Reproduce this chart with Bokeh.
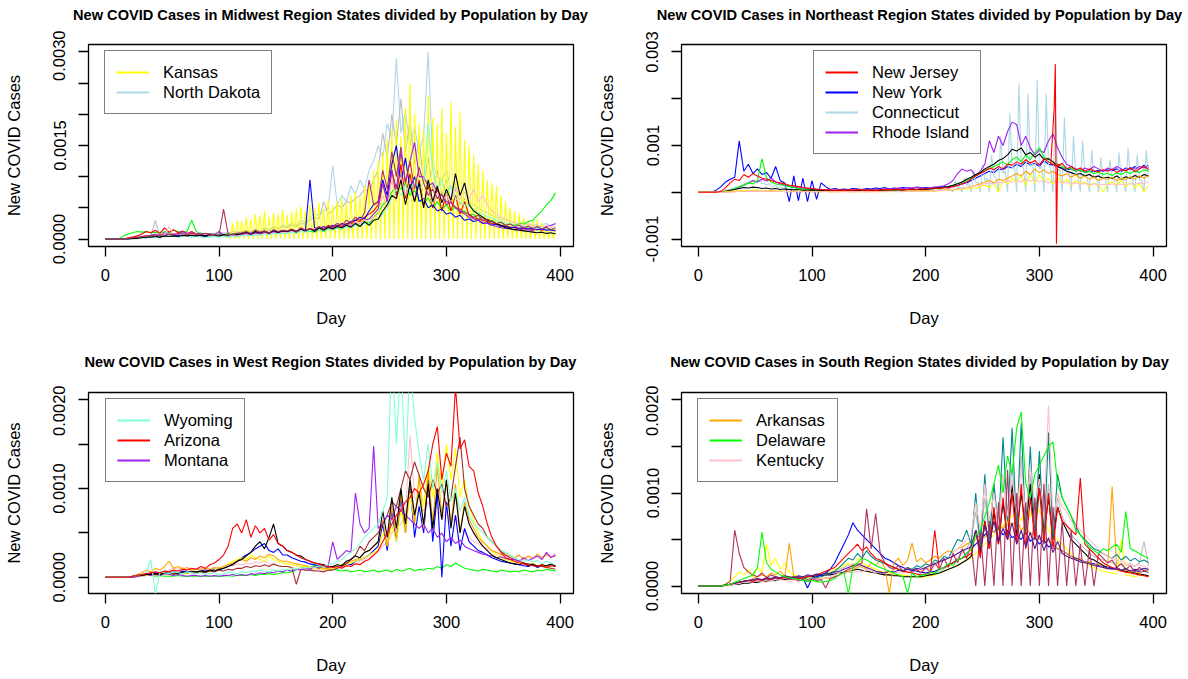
from bokeh.embed import file_html
from bokeh.layouts import column, row
from bokeh.models import (CustomJSTickFormatter, Div, FixedTicker, Legend,
                          LegendItem, Range1d)
from bokeh.plotting import figure
from bokeh.resources import INLINE

FONT = "Liberation Sans"

# Days since the first record. Most states are sampled every 4 days; states
# that only reported on some weekdays are sampled every 2 days.
DAYS_4 = list(range(0, 397, 4))
DAYS_2 = list(range(0, 397, 2))

# ---------------------------------------------------------------------------
# New cases per 100,000 residents
# ---------------------------------------------------------------------------

# Midwest
mw_kansas = [  # every 2 days
    0, 0, 0, 0, 0, 0, 0, 0, 0, 0, 1, 1, 2, 2, 3, 2, 3, 3, 4, 3,
    4, 3, 5, 4, 4, 6, 5, 4, 6, 5, 7, 5, 6, 4, 6, 5, 7, 6, 5, 6,
    5, 4, 6, 5, 4, 5, 6, 4, 5, 4, 6, 5, 4, 5, 6, 0, 25, 0, 30, 0,
    28, 0, 35, 0, 32, 0, 40, 0, 38, 0, 45, 0, 36, 0, 42, 0, 40, 0, 47, 0,
    38, 0, 44, 0, 48, 0, 52, 0, 45, 0, 55, 0, 50, 0, 58, 0, 48, 0, 62, 0,
    55, 0, 60, 0, 65, 0, 58, 0, 70, 0, 75, 0, 68, 0, 85, 0, 90, 0, 110, 0,
    125, 0, 140, 0, 160, 0, 175, 0, 190, 0, 165, 0, 210, 0, 250, 0, 200, 0, 185, 0,
    175, 0, 230, 0, 195, 0, 185, 0, 210, 0, 170, 0, 220, 0, 180, 0, 205, 0, 160, 0,
    150, 0, 135, 0, 120, 0, 110, 0, 95, 0, 90, 0, 85, 0, 70, 0, 60, 0, 50, 0,
    45, 0, 40, 0, 35, 0, 30, 0, 28, 0, 32, 0, 25, 0, 22, 0, 20, 0, 18,
]
mw_north_dakota = [
    0, 0, 0, 0, 0, 0, 1, 2, 3, 2,
    3, 4, 3, 5, 4, 6, 4, 5, 7, 5,
    6, 8, 5, 7, 9, 6, 8, 10, 7, 12,
    10, 14, 12, 16, 13, 18, 15, 20, 17, 22,
    20, 25, 22, 30, 26, 35, 40, 38, 45, 50,
    118, 55, 70, 60, 85, 72, 95, 80, 110, 125,
    150, 130, 185, 160, 290, 170, 205, 150, 180, 140,
    165, 300, 120, 100, 95, 110, 80, 90, 70, 75,
    60, 55, 50, 45, 42, 38, 35, 32, 30, 28,
    26, 25, 28, 22, 24, 20, 23, 25, 21, 24,
]
mw_south_dakota = [
    0, 0, 0, 0, 0, 0, 0, 2, 3, 4,
    5, 30, 4, 6, 5, 7, 6, 8, 10, 7,
    8, 10, 7, 9, 6, 8, 10, 9, 12, 10,
    12, 14, 11, 15, 13, 16, 14, 18, 16, 20,
    18, 22, 20, 25, 24, 30, 35, 32, 60, 40,
    45, 55, 50, 60, 58, 65, 70, 80, 75, 95,
    110, 170, 130, 200, 150, 225, 140, 190, 120, 160,
    90, 130, 80, 110, 70, 95, 60, 80, 55, 65,
    38, 35, 30, 28, 25, 24, 22, 20, 18, 20,
    18, 16, 17, 15, 16, 14, 15, 16, 13, 15,
]
mw_wisconsin = [
    0, 0, 0, 0, 0, 1, 2, 3, 4, 5,
    6, 5, 7, 6, 8, 7, 9, 8, 7, 9,
    8, 7, 9, 8, 7, 6, 48, 8, 7, 9,
    10, 12, 9, 14, 11, 13, 10, 15, 12, 14,
    13, 16, 12, 18, 14, 17, 15, 20, 16, 22,
    20, 25, 22, 30, 26, 35, 30, 42, 95, 55,
    60, 110, 80, 140, 100, 148, 90, 125, 80, 115,
    90, 70, 80, 65, 72, 55, 60, 50, 48, 42,
    40, 35, 38, 30, 32, 28, 25, 27, 22, 24,
    20, 22, 18, 21, 17, 20, 16, 19, 15, 18,
]
mw_illinois = [
    0, 0, 0, 0, 0, 0, 1, 1, 2, 3,
    3, 4, 3, 5, 4, 5, 4, 6, 5, 6,
    5, 6, 5, 7, 6, 5, 7, 6, 8, 7,
    9, 11, 8, 12, 10, 13, 9, 14, 11, 13,
    12, 15, 11, 16, 13, 17, 12, 18, 14, 19,
    16, 20, 18, 22, 19, 25, 20, 28, 22, 30,
    32, 45, 55, 70, 65, 95, 55, 88, 60, 90,
    50, 95, 60, 85, 58, 80, 62, 105, 70, 90,
    55, 45, 40, 35, 30, 28, 24, 22, 18, 17,
    15, 14, 13, 12, 11, 10, 11, 9, 10, 8,
]
mw_michigan = [
    0, 0, 0, 0, 5, 8, 10, 12, 11, 12,
    10, 11, 9, 12, 10, 14, 12, 10, 13, 30,
    12, 8, 9, 6, 8, 7, 6, 8, 7, 9,
    8, 10, 9, 11, 9, 12, 10, 11, 9, 12,
    11, 13, 10, 14, 12, 13, 11, 15, 12, 16,
    15, 18, 16, 22, 18, 24, 20, 28, 25, 35,
    42, 55, 62, 75, 88, 80, 90, 70, 78, 62,
    58, 66, 50, 60, 48, 55, 45, 52, 42, 45,
    38, 40, 32, 35, 28, 30, 25, 27, 22, 24,
    22, 25, 24, 28, 30, 38, 45, 55, 62, 74,
]
mw_nebraska = [
    0, 0, 0, 0, 0, 0, 1, 2, 3, 2,
    3, 4, 3, 5, 4, 5, 6, 4, 7, 5,
    6, 5, 4, 6, 5, 4, 6, 5, 7, 6,
    8, 10, 7, 11, 9, 12, 10, 13, 11, 14,
    12, 15, 13, 16, 14, 95, 18, 16, 20, 17,
    22, 20, 25, 23, 28, 30, 35, 32, 45, 55,
    60, 95, 70, 120, 150, 90, 130, 80, 100, 60,
    65, 50, 55, 45, 48, 40, 42, 35, 38, 30,
    32, 28, 30, 25, 26, 22, 24, 20, 21, 18,
    19, 17, 18, 16, 17, 15, 16, 14, 15, 13,
]
mw_indiana = [
    0, 0, 0, 0, 0, 2, 3, 5, 8, 12,
    10, 14, 9, 18, 11, 15, 10, 13, 9, 12,
    8, 7, 6, 5, 6, 5, 4, 5, 6, 5,
    6, 8, 7, 9, 8, 10, 9, 11, 10, 12,
    11, 13, 12, 14, 13, 16, 14, 18, 16, 20,
    18, 22, 20, 25, 24, 30, 28, 35, 40, 45,
    55, 90, 60, 110, 70, 120, 65, 105, 60, 95,
    55, 85, 50, 80, 45, 75, 45, 70, 40, 60,
    38, 34, 32, 30, 28, 25, 24, 22, 20, 19,
    18, 17, 16, 18, 15, 17, 14, 16, 15, 14,
]
mw_iowa = [
    0, 0, 0, 0, 0, 0, 1, 2, 4, 5,
    6, 8, 5, 10, 7, 9, 6, 12, 8, 10,
    7, 9, 6, 8, 7, 12, 6, 5, 7, 6,
    8, 9, 7, 10, 9, 12, 10, 11, 9, 13,
    12, 14, 11, 15, 13, 16, 14, 17, 15, 18,
    17, 20, 18, 23, 21, 26, 24, 30, 32, 40,
    48, 90, 60, 110, 80, 140, 90, 125, 155, 100,
    100, 85, 90, 75, 70, 60, 58, 50, 45, 40,
    35, 32, 30, 26, 25, 22, 20, 18, 17, 16,
    15, 16, 14, 15, 13, 18, 16, 20, 22, 25,
]
mw_minnesota = [
    0, 0, 0, 0, 0, 0, 0, 1, 2, 2,
    3, 2, 4, 3, 5, 4, 3, 5, 4, 3,
    4, 3, 2, 3, 4, 3, 4, 3, 5, 4,
    5, 6, 5, 7, 6, 8, 7, 9, 8, 10,
    9, 11, 10, 12, 11, 14, 12, 15, 13, 16,
    15, 18, 16, 20, 18, 22, 20, 25, 24, 30,
    32, 40, 50, 65, 80, 70, 85, 75, 95, 80,
    90, 185, 110, 80, 95, 70, 85, 65, 60, 55,
    52, 48, 42, 40, 36, 34, 30, 28, 26, 24,
    22, 21, 20, 19, 18, 17, 18, 16, 17, 15,
]
mw_missouri = [
    0, 0, 0, 0, 0, 0, 0, 1, 2, 4,
    6, 5, 8, 6, 20, 7, 9, 6, 8, 7,
    6, 5, 7, 5, 6, 4, 5, 6, 4, 5,
    6, 7, 5, 8, 6, 9, 7, 10, 8, 11,
    10, 12, 11, 14, 12, 15, 13, 16, 14, 18,
    16, 20, 18, 22, 20, 26, 24, 30, 28, 35,
    40, 70, 50, 95, 60, 100, 70, 90, 65, 85,
    60, 80, 55, 75, 60, 70, 58, 85, 62, 90,
    65, 80, 60, 70, 55, 45, 40, 35, 32, 28,
    26, 24, 22, 25, 20, 23, 18, 22, 19, 20,
]

# Northeast
ne_new_jersey = [
    0, 0, 0, 0, 0, 2, 10, 20, 28, 25,
    38, 32, 40, 35, 30, 28, 25, 22, 20, 18,
    15, 14, 12, 10, 9, 8, 7, 6, 5, 5,
    4, 5, 4, 5, 4, 6, 5, 4, 5, 4,
    5, 6, 5, 7, 6, 5, 6, 7, 6, 8,
    7, 8, 9, 8, 10, 9, 12, 14, 18, 22,
    28, 35, 40, 45, 52, 48, 55, 50, 60, 58,
    65, 60, 70, 62, 68, 58, 72, 65, 60, 55,
    62, 50, 55, 48, 52, 45, 50, 46, 44, 48,
    45, 50, 42, 48, 46, 52, 44, 50, 55, 48,
]
# New Jersey's data revision around day 315 (daily values)
ne_nj_revision_days = [310, 313, 314, 315, 316, 318]
ne_nj_revision = [60, 180, 274, -110, 60, 58]
ne_new_york = [
    0, 0, 0, 0, 5, 12, 22, 28, 32, 110,
    45, 60, 40, 50, 38, 42, 30, 55, 25, 20,
    -20, 35, -18, 30, -20, 25, -15, 20, 12, 6,
    8, 6, 7, 6, 8, 7, 6, 8, 7, 9,
    8, 10, 7, 9, 8, 10, 9, 8, 10, 9,
    10, 9, 11, 10, 12, 11, 14, 15, 18, 20,
    25, 30, 35, 40, 45, 42, 50, 48, 55, 52,
    60, 55, 65, 58, 62, 55, 68, 60, 58, 55,
    52, 48, 50, 45, 48, 42, 46, 44, 47, 45,
    48, 46, 50, 44, 52, 48, 55, 50, 58, 52,
]
ne_connecticut = [  # every 2 days
    0, 0, 0, 0, 0, 0, 0, 0, 0, 0, 2, 3, 5, 4, 6, 8, 10, 9, 12, 15,
    18, 20, 22, 18, 25, 20, 22, 28, 18, 20, 15, 18, 14, 12, 15, 10, 12, 9, 10, 8,
    7, 8, 6, 7, 5, 6, 5, 4, 5, 4, 6, 3, 4, 5, 3, 4, 3, 4, 3, 2,
    3, 2, 4, 3, 2, 3, 4, 2, 3, 3, 2, 4, 3, 2, 3, 2, 4, 3, 2, 3,
    3, 2, 4, 3, 4, 3, 2, 4, 3, 5, 3, 4, 2, 5, 3, 4, 3, 5, 4, 3,
    4, 5, 3, 6, 4, 5, 7, 4, 6, 5, 8, 6, 0, 25, 10, 12, 0, 30, 15, 18,
    0, 45, 20, 22, 0, 60, 25, 30, 0, 80, 35, 30, 0, 120, 40, 45, 0, 170, 50, 55,
    0, 232, 60, 50, 0, 210, 55, 60, 0, 240, 50, 55, 0, 210, 60, 50, 0, 190, 45, 50,
    0, 160, 45, 40, 0, 120, 40, 35, 0, 110, 35, 30, 0, 90, 30, 35, 0, 75, 30, 28,
    0, 70, 28, 25, 0, 85, 30, 25, 0, 95, 30, 28, 0, 80, 28, 25, 0, 90, 30,
]
ne_rhode_island = [
    0, 0, 0, 0, 0, 0, 1, 3, 6, 10,
    15, 20, 25, 22, 28, 24, 30, 22, 18, 15,
    14, 12, 10, 9, 8, 7, 6, 6, 5, 5,
    4, 5, 4, 6, 5, 4, 6, 5, 6, 5,
    6, 7, 8, 7, 9, 8, 10, 9, 11, 10,
    8, 9, 10, 12, 14, 18, 25, 40, 50, 45,
    48, 35, 45, 60, 110, 85, 120, 100, 130, 150,
    145, 100, 120, 95, 80, 90, 85, 110, 125, 95,
    75, 60, 55, 50, 45, 52, 48, 55, 50, 45,
    52, 48, 55, 50, 46, 53, 49, 55, 52, 58,
]
ne_massachusetts = [
    0, 0, 0, 0, 0, 0, 2, 5, 8, 12,
    15, 20, 18, 25, 72, 30, 22, 18, 16, 14,
    12, 10, 8, 7, 6, 5, 4, 4, 3, 3,
    3, 4, 3, 4, 3, 4, 3, 4, 3, 4,
    4, 5, 4, 5, 4, 6, 5, 6, 5, 7,
    6, 7, 8, 9, 10, 12, 14, 18, 22, 25,
    30, 35, 40, 48, 50, 55, 60, 65, 58, 70,
    75, 65, 80, 70, 85, 95, 75, 70, 65, 60,
    55, 50, 52, 45, 48, 42, 45, 40, 43, 38,
    40, 36, 42, 38, 44, 40, 46, 42, 48, 45,
]
ne_pennsylvania = [
    0, 0, 0, 0, 0, 0, 2, 4, 6, 8,
    10, 9, 11, 10, 8, 9, 7, 8, 6, 7,
    6, 5, 5, 4, 4, 5, 4, 3, 4, 3,
    3, 4, 3, 4, 3, 4, 3, 4, 4, 3,
    4, 5, 4, 5, 5, 4, 6, 5, 6, 5,
    6, 7, 8, 9, 10, 12, 15, 18, 22, 28,
    32, 38, 42, 50, 55, 60, 68, 72, 80, 92,
    88, 95, 80, 85, 75, 82, 70, 72, 65, 55,
    50, 45, 42, 38, 40, 35, 38, 32, 35, 30,
    32, 30, 35, 28, 33, 30, 36, 32, 38, 35,
]
ne_vermont = [
    0, 0, 0, 0, 0, 0, 1, 2, 3, 3,
    4, 3, 5, 4, 3, 4, 3, 2, 3, 2,
    2, 2, 3, 2, 2, 1, 2, 1, 2, 1,
    1, 2, 1, 2, 1, 1, 2, 1, 1, 2,
    1, 2, 2, 1, 2, 2, 3, 2, 3, 2,
    3, 2, 4, 3, 5, 4, 6, 5, 8, 6,
    10, 8, 12, 15, 10, 20, 0, 25, 18, 30,
    22, 35, 15, 40, 20, 38, 25, 30, 18, 32,
    20, 28, 15, 25, 18, 22, 12, 20, 15, 0,
    18, 22, 15, 25, 12, 20, 10, 18, 0, 15,
]
ne_maine = [
    0, 0, 0, 0, 0, 0, 0, 1, 1, 2,
    2, 3, 2, 3, 2, 2, 3, 2, 2, 1,
    1, 2, 1, 1, 2, 1, 1, 1, 2, 1,
    1, 1, 2, 1, 1, 2, 1, 1, 2, 1,
    2, 1, 2, 2, 1, 2, 2, 3, 2, 3,
    3, 4, 3, 5, 4, 6, 5, 7, 8, 10,
    12, 15, 18, 22, 25, 20, 28, 25, 30, 35,
    40, 35, 45, 38, 50, 42, 48, 40, 45, 38,
    35, 40, 32, 38, 30, 35, 28, 32, 25, 30,
    28, 32, 25, 30, 27, 33, 28, 35, 30, 36,
]
ne_new_hampshire = [
    0, 0, 0, 0, 0, 0, 0, 0, 1, 2,
    2, 3, 2, 3, 2, 3, 2, 2, 1, 2,
    1, 1, 2, 1, 1, 1, 1, 1, 1, 1,
    1, 1, 1, 1, 1, 1, 1, 1, 1, 1,
    1, 1, 2, 1, 2, 1, 2, 2, 2, 2,
    2, 3, 3, 4, 4, 5, 6, 7, 8, 10,
    12, 14, 15, 18, 20, 18, 22, 20, 25, 22,
    25, 22, 28, 24, 26, 22, 25, 20, 24, 22,
    20, 22, 18, 20, 17, 19, 16, 18, 15, 17,
    16, 18, 15, 17, 16, 19, 17, 20, 18, 22,
]

# West
we_arizona = [
    0, 0, 0, 0, 0, 0, 1, 2, 3, 4,
    5, 6, 5, 7, 6, 8, 7, 9, 8, 10,
    9, 12, 10, 14, 16, 20, 25, 35, 55, 60,
    50, 65, 45, 58, 50, 55, 42, 48, 38, 35,
    30, 28, 25, 22, 20, 18, 16, 15, 13, 12,
    11, 12, 10, 13, 12, 15, 14, 18, 20, 25,
    30, 40, 50, 60, 70, 75, 85, 90, 100, 95,
    105, 120, 150, 170, 110, 140, 125, 215, 145, 155,
    125, 120, 95, 80, 60, 45, 35, 28, 22, 20,
    18, 16, 15, 14, 13, 12, 14, 11, 13, 12,
]
we_wyoming = [
    0, 0, 0, 0, 0, 0, 1, 2, 3, 5,
    20, -19, 6, 5, 4, 6, 5, 4, 6, 5,
    4, 5, 3, 4, 5, 3, 4, 6, 5, 4,
    6, 5, 7, 6, 8, 7, 6, 8, 7, 9,
    8, 10, 9, 11, 10, 12, 11, 13, 12, 14,
    15, 18, 20, 25, 28, 32, 38, 45, 50, 55,
    60, 75, 90, 260, 150, 250, 120, 240, 180, 140,
    110, 150, 100, 130, 95, 120, 85, 100, 75, 90,
    70, 60, 55, 50, 45, 40, 35, 30, 28, 25,
    22, 20, 18, 20, 17, 19, 15, 18, 16, 14,
]
we_montana = [
    0, 0, 0, 0, 0, 0, 0, 1, 2, 3,
    2, 3, 2, 4, 3, 2, 3, 2, 1, 2,
    2, 1, 2, 1, 2, 1, 2, 2, 3, 2,
    3, 2, 4, 3, 5, 4, 6, 5, 7, 6,
    8, 7, 9, 8, 10, 9, 12, 10, 14, 12,
    40, 20, 25, 30, 28, 95, 60, 50, 55, 148,
    55, 60, 70, 65, 80, 75, 70, 65, 60, 55,
    60, 50, 55, 45, 50, 40, 45, 38, 42, 35,
    32, 30, 28, 26, 25, 24, 22, 23, 21, 20,
    20, 18, 22, 19, 21, 24, 20, 28, 22, 25,
]
we_california = [
    0, 0, 0, 0, 0, 0, 1, 2, 2, 3,
    3, 4, 3, 5, 4, 5, 4, 6, 5, 6,
    6, 7, 6, 8, 7, 9, 10, 12, 14, 18,
    20, 24, 28, 35, 40, 32, 45, 60, 38, 35,
    30, 28, 25, 24, 20, 18, 16, 15, 14, 12,
    12, 14, 13, 18, 20, 24, 22, 28, 30, 35,
    40, 75, 45, 90, 55, 100, 60, 110, 70, 95,
    60, 105, 55, 100, 65, 110, 55, 95, 50, 80,
    60, 50, 42, 35, 30, 25, 22, 20, 18, 16,
    15, 14, 16, 13, 15, 12, 14, 13, 15, 12,
]
we_nevada = [
    0, 0, 0, 0, 0, 0, 1, 2, 3, 3,
    4, 5, 4, 6, 5, 6, 5, 7, 6, 7,
    6, 7, 8, 7, 9, 8, 10, 12, 15, 18,
    22, 25, 28, 32, 35, 38, 30, 28, 32, 25,
    25, 22, 20, 18, 17, 15, 14, 13, 12, 11,
    12, 11, 13, 15, 14, 18, 20, 22, 25, 30,
    35, 60, 30, 75, 40, 90, 50, 105, 45, 80,
    50, 110, 40, 95, 0, 85, 35, 70, 30, 55,
    40, 35, 30, 28, 25, 22, 20, 18, 17, 16,
    15, 14, 13, 12, 14, 11, 13, 12, 14, 13,
]
we_utah = [
    0, 0, 0, 0, 0, 0, 0, 1, 2, 2,
    3, 2, 4, 3, 5, 4, 3, 5, 4, 6,
    5, 6, 7, 6, 8, 10, 12, 15, 18, 20,
    22, 20, 25, 22, 20, 18, 24, 20, 18, 16,
    15, 14, 13, 12, 12, 11, 10, 10, 9, 9,
    10, 11, 12, 14, 16, 18, 20, 22, 25, 28,
    30, 50, 35, 60, 40, 75, 50, 95, 60, 110,
    80, 125, 90, 140, 100, 150, 110, 145, 90, 110,
    80, 65, 50, 40, 35, 30, 25, 22, 20, 18,
    17, 16, 15, 14, 15, 13, 14, 12, 13, 12,
]
we_idaho = [
    0, 0, 0, 0, 0, 0, 1, 3, 5, 8,
    6, 10, 8, 12, 18, 10, 12, 9, 11, 8,
    9, 8, 10, 9, 11, 10, 12, 14, 16, 18,
    20, 18, 22, 20, 24, 22, 26, 24, 20, 18,
    18, 16, 15, 14, 13, 12, 12, 11, 10, 10,
    11, 12, 14, 16, 18, 20, 22, 28, 30, 35,
    40, 65, 35, 80, 45, 95, 50, 110, 60, 115,
    55, 120, 60, 125, 70, 110, 60, 105, 50, 85,
    65, 55, 45, 40, 35, 30, 28, 25, 28, 24,
    22, 25, 20, 24, 21, 26, 22, 25, 23, 24,
]
we_hawaii = [
    0, 0, 0, 0, 0, 0, 0, 1, 1, 2,
    2, 1, 2, 1, 1, 1, 2, 1, 1, 1,
    1, 1, 1, 1, 1, 1, 1, 2, 1, 2,
    2, 2, 3, 2, 3, 3, 4, 3, 4, 5,
    5, 6, 8, 10, 12, 10, 14, 12, 10, 8,
    9, 8, 7, 8, 6, 7, 8, 6, 7, 8,
    6, 7, 8, 6, 9, 7, 8, 10, 7, 9,
    8, 10, 9, 12, 10, 14, 12, 16, 13, 10,
    9, 8, 7, 9, 8, 7, 6, 8, 7, 6,
    7, 6, 8, 7, 6, 8, 7, 9, 8, 7,
]
we_new_mexico = [
    0, 0, 0, 0, 0, 0, 0, 1, 2, 3,
    3, 4, 3, 5, 4, 3, 5, 4, 6, 5,
    5, 6, 5, 7, 6, 8, 7, 9, 8, 10,
    10, 12, 11, 13, 12, 14, 12, 15, 13, 12,
    12, 11, -8, 9, 8, 8, 7, 7, 6, 8,
    8, 10, 12, 15, 20, 25, 35, 30, 40, 45,
    50, 60, 70, 85, 80, 100, 120, 110, 130, 115,
    100, 90, 110, 95, 105, 80, 90, 125, 158, 100,
    80, 70, 60, 55, 45, 40, 35, 30, 25, 22,
    20, 18, 16, 15, 14, 13, 12, 11, 10, 9,
]
we_colorado = [
    0, 0, 0, 0, 0, 0, 0, 0, 1, 2,
    3, 4, 5, 6, 8, 10, 9, 11, 8, 10,
    9, 10, 8, 9, 10, 11, 12, 14, 13, 15,
    14, 16, 15, 17, 16, 18, 15, 14, 13, 12,
    12, 11, 10, 10, 9, 9, 8, 9, 8, 8,
    9, 10, 11, 12, 14, 15, 18, 20, 22, 25,
    28, 35, 40, 50, 55, 60, 70, 160, 90, 80,
    75, 85, 70, 80, 65, 75, 60, 70, 55, 50,
    45, 40, 38, 35, 32, 30, 28, 26, 25, 24,
    22, 24, 20, 23, 21, 25, 22, 26, 23, 27,
]

# South
so_arkansas = [
    0, 0, 0, 0, 0, 0, 1, 2, 3, 4,
    5, 6, 8, 10, 12, 10, 14, 12, 16, 10,
    46, 10, 8, 9, 7, 6, 8, 7, 9, 8,
    10, 12, 14, 16, 18, 20, 22, 18, 25, 22,
    28, 20, -8, 25, 30, 22, 28, 46, 26, 30,
    25, 28, 32, 30, 35, 38, 36, 40, 42, 45,
    48, 50, 55, 52, 60, 58, 65, 62, 70, 65,
    72, 60, 65, 55, 58, 50, 52, 48, 45, 40,
    38, 35, 32, 28, 30, 25, 26, 22, 24, 20,
    18, 107, 20, 17, 18, 15, 16, 14, 17, 15,
]
so_delaware = [
    0, 0, 0, 0, 0, 0, 1, 2, 4, 6,
    8, 10, 12, 20, 58, 25, 18, 15, 12, 10,
    9, 8, 7, 6, 5, 6, 5, 4, 5, 6,
    8, 12, 15, -8, 20, 25, 30, 28, 25, 22,
    20, 18, 16, 14, 12, 10, -8, 14, 10, 12,
    12, 15, 14, 18, 20, 24, 22, 28, 30, 35,
    40, 55, 60, 75, 90, 110, 130, 100, 140, 120,
    170, 187, 110, 95, 120, 130, 140, 150, 155, 110,
    95, 85, 75, 60, 55, 48, 42, 38, 35, 40,
    38, 42, 45, 36, 80, 40, 38, 35, 32, 30,
]
so_kentucky = [
    0, 0, 0, 0, 0, 0, 0, 1, 2, 3,
    4, 5, 4, 6, 5, 4, 6, 5, 7, 6,
    5, 6, 5, 7, 6, 8, 7, 9, 8, 10,
    12, 14, 13, 15, 14, 16, 15, 18, 16, 14,
    15, 14, 16, 13, 15, 14, 16, 15, 17, 16,
    18, 20, 22, 25, 28, 30, 35, 40, 45, 50,
    55, 90, 60, 110, 70, 100, 65, 120, 75, 115,
    80, 125, 75, 130, 85, 115, 80, 194, 70, 100,
    85, 80, 70, 65, 60, 55, 50, 45, 40, 35,
    32, 30, 28, 26, 25, 24, 22, 23, 21, 20,
]
so_tennessee = [
    0, 0, 0, 0, 0, 0, 1, 2, 3, 4,
    5, 6, 5, 7, 6, 8, 7, 9, 8, 10,
    9, 10, 8, 9, 7, 8, 9, 10, 12, 14,
    16, 20, 25, 30, 28, 35, 30, 38, 32, 28,
    26, 24, 22, 20, 18, 16, 20, 18, 22, 20,
    24, 22, 28, 26, 32, 30, 40, 50, 48, 60,
    45, 100, 40, 120, 50, 110, 60, 160, 70, 170,
    60, 175, 55, 150, 50, 145, 45, 165, 50, 120,
    95, 85, 75, 65, 55, 50, 45, 40, 38, 35,
    32, 30, 34, 28, 32, 27, 30, 26, 28, 25,
]
so_louisiana = [
    0, 0, 0, 0, 0, 0, 2, 5, 60, 35,
    20, 15, 12, 10, 14, 9, 12, 10, 8, 9,
    7, 8, 6, 7, 5, 8, 6, 7, -2, 8,
    10, 12, 15, 18, 20, 22, 25, 83, 40, 78,
    35, 25, 20, 18, 22, 16, 20, 15, 18, 14,
    20, 15, 25, 18, 30, 20, 35, 25, 40, 30,
    45, 0, 60, 0, 70, 0, 90, 0, 125, 0,
    100, 0, 90, 0, 95, 0, 110, 0, 85, 0,
    70, 0, 60, 0, 45, 0, 40, 0, 35, 30,
    25, 28, 20, 24, 18, 22, 15, 20, 16, 18,
]
so_florida = [
    0, 0, 0, 0, 0, 0, 1, 2, 3, 4,
    5, 6, 5, 7, 6, 8, 7, 9, 8, 10,
    9, 8, 10, 9, -2, 8, 10, 12, 14, 18,
    25, 35, 45, 55, 68, 60, 55, 50, 45, 40,
    35, 30, 28, 25, 22, 20, 18, 17, 16, 15,
    14, 15, 16, 18, 20, 22, 25, 28, 30, 35,
    40, 45, 50, 55, 60, 58, 62, 55, 60, 52,
    55, 50, 58, 48, 52, 45, 50, 42, 45, 40,
    38, 35, 32, 30, 28, 26, 25, 24, 22, 21,
    20, 19, 18, 17, 18, 16, 17, 15, 16, 15,
]
so_alabama = [
    0, 0, 0, 0, 0, 0, 1, 2, 3, 4,
    5, 6, 5, 7, 6, 8, 7, 9, 8, 10,
    9, 10, 8, 9, 10, 11, 12, 14, 16, 18,
    20, 25, 30, 35, 40, 45, 38, 42, 35, 30,
    28, 25, 22, 20, 18, 16, 15, 14, 13, 12,
    13, 14, 60, 18, 20, 22, 25, 28, 30, 32,
    35, 60, 30, 70, 40, 85, 45, 95, 50, 100,
    45, 110, 40, 95, 50, 105, 45, 100, 40, 85,
    70, 65, 60, 55, 116, 45, 40, 35, 30, 25,
    22, 20, 18, 16, 15, 14, 13, 12, 11, 10,
]
so_virginia = [
    0, 0, 0, 0, 0, 0, 1, 2, 3, 4,
    5, 6, 7, 8, 7, 9, 8, 10, 9, 11,
    10, 9, 11, 10, 12, 11, 13, 12, 14, 13,
    15, 16, 18, 20, 22, 24, 22, 20, 18, 16,
    15, 14, 16, 15, 17, 16, 18, 17, 19, 18,
    20, 22, 24, 26, 28, 30, 32, 35, 38, 40,
    42, 60, 38, 65, 45, 70, 48, 62, 50, 68,
    45, 60, 42, 58, 40, 55, 38, 52, 36, 48,
    35, 32, 30, 28, 26, 25, 24, 22, 21, 20,
    19, 18, 20, 17, 19, 16, 18, 17, 19, 18,
]
so_mississippi = [
    0, 0, 0, 0, 0, 0, 2, 5, 10, 15,
    12, 18, 10, 20, 15, 45, 22, 30, 18, 25,
    15, 12, 10, 8, 9, 7, 8, 10, 12, 15,
    18, 20, 22, 25, 20, 30, 25, 22, 20, 18,
    16, 15, 14, 13, 12, 12, 11, 10, 10, 9,
    10, 11, 12, 14, 16, 18, 20, 22, 25, 28,
    30, 35, 40, 45, 50, 55, 60, 65, 70, 75,
    80, 70, 85, 75, 90, 80, 70, 60, 55, 50,
    45, 40, 35, 30, 28, 25, 22, 20, 18, 16,
    15, 14, 13, 50, 12, 11, 10, 12, 11, 10,
]
so_oklahoma = [
    0, 0, 0, 0, 0, 0, 1, 2, 3, 4,
    5, 6, 5, 7, 6, 8, 7, 9, 8, 10,
    9, 8, 10, 9, 10, 11, 12, 13, 14, 15,
    16, 18, 20, 22, 24, 22, 20, 18, 16, 15,
    14, 13, 12, 12, 11, 11, 10, 10, 10, 10,
    11, 12, 14, 16, 18, 22, 25, 30, 35, 40,
    50, 80, 45, 95, 55, 110, 60, 120, 65, 130,
    70, 140, 65, 120, 60, 140, 55, 110, 50, 95,
    75, 65, 55, 50, 45, 40, 35, 32, 30, 28,
    26, 25, 24, 23, 22, 24, 21, 25, 48, 22,
]
so_georgia = [
    0, 0, 0, 0, 0, 0, 1, 1, 2, 2,
    3, 3, 4, 4, 5, 5, 6, 6, 7, 7,
    8, 8, 9, 9, 10, 10, 11, 11, 12, 12,
    13, 14, 15, 16, 17, 18, 17, 16, 15, 14,
    13, 12, 12, 11, 11, 10, 10, 10, 10, 10,
    11, 12, 13, 14, 16, 18, 20, 22, 25, 28,
    32, 60, 35, 70, 40, 80, 45, 90, 50, 110,
    55, 100, 60, 110, 50, 120, 55, 95, 50, 85,
    70, 60, 50, 45, 40, 35, 30, 28, 25, 22,
    20, 19, 18, 17, 16, 15, 14, 13, 12, 11,
]

# Tick labels (R drops the labels that would overlap)
MW_Y_TICKS = [0.0, 0.0005, 0.001, 0.0015, 0.002, 0.0025, 0.003]
MW_Y_LABELS = ["0.0000", "", "", "0.0015", "", "", "0.0030"]
NE_Y_TICKS = [-0.001, 0.0, 0.001, 0.002, 0.003]
NE_Y_LABELS = ["-0.001", "", "0.001", "", "0.003"]
WS_Y_TICKS = [0.0, 0.0005, 0.001, 0.0015, 0.002]
WS_Y_LABELS = ["0.0000", "", "0.0010", "", "0.0020"]
X_TICKS = [0, 100, 200, 300, 400]

YELLOW, LIGHTBLUE, GRAY = "#FFFF00", "#ADD8E6", "#BEBEBE"
MAROON, BLACK, GREEN, BLUE = "#B03060", "#000000", "#00FF00", "#0000FF"
RED, PURPLE, AQUA, PINK = "#FF0000", "#A020F0", "#7FFFD4", "#FFC0CB"
ORANGE, BROWN, DARKCYAN, PURPLE4 = "#FFA500", "#A52A2A", "#008B8B", "#551A8B"

NAN = float("nan")
PANEL_WIDTH = 594
FRAME_WIDTH = 485


def per_capita(cases_per_100k):
    return [v / 100000 for v in cases_per_100k]


def tick_formatter(ticks, labels):
    return CustomJSTickFormatter(args=dict(vals=ticks, labs=labels), code="""
        for (let i = 0; i < vals.length; i++) {
            if (Math.abs(tick - vals[i]) < 1e-9) { return labs[i]; }
        }
        return "";
    """)


def title_bar(text, border_left, height):
    # bold heading centred over the plotting box of the panel below it
    shift = 2 * (border_left + FRAME_WIDTH / 2) - PANEL_WIDTH
    style = (f"width:{PANEL_WIDTH}px;height:{height}px;line-height:{height}px;"
             f"padding-left:{shift:.0f}px;box-sizing:border-box;margin:0;"
             f"text-align:center;white-space:nowrap;color:#000;"
             f"font-family:'{FONT}';font-size:14.6px;font-weight:bold;")
    return Div(text=f'<div style="{style}">{text}</div>',
               width=PANEL_WIDTH, height=height, margin=0)


def make_panel(title, lines, legend_states, y_range, y_ticks, y_labels,
               border_left, border_top, frame_height, panel_height, legend_xy,
               title_height):
    p = figure(frame_width=FRAME_WIDTH, frame_height=frame_height,
               x_range=Range1d(-14.8, 411.8), y_range=Range1d(*y_range),
               min_border_left=border_left,
               min_border_right=PANEL_WIDTH - border_left - FRAME_WIDTH,
               min_border_top=border_top - title_height,
               min_border_bottom=panel_height - border_top - frame_height,
               output_backend="svg", toolbar_location=None,
               x_axis_label="Day", y_axis_label="New COVID Cases")
    p.background_fill_color = "white"
    p.border_fill_color = "white"
    p.outline_line_color = "black"
    p.outline_line_width = 1.3
    p.xgrid.visible = False
    p.ygrid.visible = False

    for ax in (p.xaxis[0], p.yaxis[0]):
        ax.axis_line_color = None
        ax.major_tick_in = 0
        ax.major_tick_out = 10
        ax.major_tick_line_color = "black"
        ax.major_tick_line_width = 1.3
        ax.minor_tick_line_color = None
        ax.major_label_text_font = FONT
        ax.major_label_text_font_size = "16.5px"
        ax.major_label_text_color = "black"
        ax.axis_label_text_font = FONT
        ax.axis_label_text_font_size = "16.5px"
        ax.axis_label_text_font_style = "normal"
        ax.axis_label_text_color = "black"

    p.xaxis.ticker = FixedTicker(ticks=X_TICKS)
    p.xaxis.major_label_standoff = 12
    p.xaxis.axis_label_standoff = 25
    p.yaxis.ticker = FixedTicker(ticks=y_ticks)
    p.yaxis.formatter = tick_formatter(y_ticks, y_labels)
    p.yaxis.major_label_orientation = "vertical"
    p.yaxis.major_label_standoff = 13
    p.yaxis.axis_label_standoff = 28

    colors = {}
    for state, days, cases, color in lines:
        p.line(days, per_capita(cases), line_color=color, line_width=1.1)
        colors.setdefault(state, color)

    # legend keys: undrawn single-point lines that carry each state's colour
    items = []
    for s in legend_states:
        key = p.line([NAN], [NAN], line_color=colors[s], line_width=2)
        items.append(LegendItem(label=s, renderers=[key]))
    legend = Legend(items=items, location=legend_xy,
                    label_text_font=FONT, label_text_font_size="16.5px",
                    label_text_color="black",
                    glyph_width=33, glyph_height=20, label_height=20,
                    label_standoff=14, padding=11, spacing=0, margin=0,
                    border_line_color="black", border_line_width=1.3,
                    background_fill_color="white", background_fill_alpha=1)
    p.add_layout(legend)
    return column(title_bar(title, border_left, title_height), p, spacing=0)


midwest = make_panel(
    "New COVID Cases in Midwest Region States divided by Population by Day",
    [
        ("North Dakota", DAYS_4, mw_north_dakota, LIGHTBLUE),
        ("South Dakota", DAYS_4, mw_south_dakota, GRAY),
        ("Kansas", DAYS_2, mw_kansas, YELLOW),
        ("Michigan", DAYS_4, mw_michigan, GREEN),
        ("Indiana", DAYS_4, mw_indiana, RED),
        ("Nebraska", DAYS_4, mw_nebraska, BLUE),
        ("Iowa", DAYS_4, mw_iowa, PURPLE),
        ("Missouri", DAYS_4, mw_missouri, PINK),
        ("Minnesota", DAYS_4, mw_minnesota, AQUA),
        ("Illinois", DAYS_4, mw_illinois, BLACK),
        ("Wisconsin", DAYS_4, mw_wisconsin, MAROON),
    ],
    ["Kansas", "North Dakota"],
    (-0.00012, 0.00312), MW_Y_TICKS, MW_Y_LABELS,
    88, 44, 202, 340, (16, 132), 30)

northeast = make_panel(
    "New COVID Cases in Northeast Region States divided by Population by Day",
    [
        ("New York", DAYS_4, ne_new_york, BLUE),
        ("Connecticut", DAYS_2, ne_connecticut, LIGHTBLUE),
        ("Rhode Island", DAYS_4, ne_rhode_island, PURPLE),
        ("Massachusetts", DAYS_4, ne_massachusetts, GREEN),
        ("Pennsylvania", DAYS_4, ne_pennsylvania, BLACK),
        ("Vermont", DAYS_4, ne_vermont, YELLOW),
        ("Maine", DAYS_4, ne_maine, ORANGE),
        ("New Hampshire", DAYS_4, ne_new_hampshire, PINK),
        ("New Jersey", DAYS_4, ne_new_jersey, RED),
        ("New Jersey revision", ne_nj_revision_days, ne_nj_revision, RED),
    ],
    ["New Jersey", "New York", "Connecticut", "Rhode Island"],
    (-0.00116, 0.00316), NE_Y_TICKS, NE_Y_LABELS,
    83, 44, 202, 340, (132, 92), 30)

west = make_panel(
    "New COVID Cases in West Region States divided by Population by Day",
    [
        ("Hawaii", DAYS_4, we_hawaii, GREEN),
        ("Colorado", DAYS_4, we_colorado, PINK),
        ("Nevada", DAYS_4, we_nevada, BLUE),
        ("Utah", DAYS_4, we_utah, YELLOW),
        ("Idaho", DAYS_4, we_idaho, ORANGE),
        ("New Mexico", DAYS_4, we_new_mexico, BROWN),
        ("Montana", DAYS_4, we_montana, PURPLE),
        ("California", DAYS_4, we_california, BLACK),
        ("Wyoming", DAYS_4, we_wyoming, AQUA),
        ("Arizona", DAYS_4, we_arizona, RED),
    ],
    ["Wyoming", "Arizona", "Montana"],
    (-0.000184, 0.002084), WS_Y_TICKS, WS_Y_LABELS,
    88, 52, 201, 339, (17, 111), 45)

south = make_panel(
    "New COVID Cases in South Region States divided by Population by Day",
    [
        ("Oklahoma", DAYS_4, so_oklahoma, GRAY),
        ("Mississippi", DAYS_4, so_mississippi, YELLOW),
        ("Georgia", DAYS_4, so_georgia, BLACK),
        ("Florida", DAYS_4, so_florida, BLUE),
        ("Arkansas", DAYS_4, so_arkansas, ORANGE),
        ("Tennessee", DAYS_4, so_tennessee, DARKCYAN),
        ("Kentucky", DAYS_4, so_kentucky, PINK),
        ("Louisiana", DAYS_4, so_louisiana, MAROON),
        ("Alabama", DAYS_4, so_alabama, RED),
        ("Virginia", DAYS_4, so_virginia, PURPLE4),
        ("Delaware", DAYS_4, so_delaware, GREEN),
    ],
    ["Arkansas", "Delaware", "Kentucky"],
    (-0.00008, 0.00208), WS_Y_TICKS, WS_Y_LABELS,
    83, 52, 201, 339, (16, 111), 45)

layout = column(row(midwest, northeast, spacing=0),
                row(west, south, spacing=0), spacing=0)

with open("out.html", "w") as f:
    f.write(file_html(layout, INLINE, "New COVID Cases by Region"))
